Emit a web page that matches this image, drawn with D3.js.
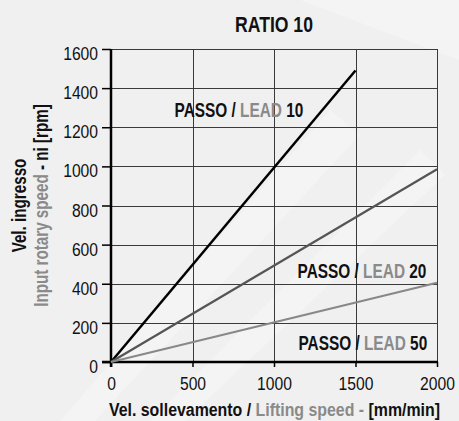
<!DOCTYPE html>
<html>
<head>
<meta charset="utf-8">
<script src="https://cdn.jsdelivr.net/npm/d3@7"></script>
<style>
  html, body { margin: 0; padding: 0; background: #f0f0f0; }
  svg { display: block; }
  text { font-family: "Liberation Sans", Arial, sans-serif; }
</style>
</head>
<body>
<svg id="chart" width="459" height="421"></svg>
<script>
// Lifting speed [mm/min] vs input rotary speed [rpm], gear ratio 10
const title = "RATIO 10";
const xTicks = [0, 500, 1000, 1500, 2000];
const yTicks = [0, 200, 400, 600, 800, 1000, 1200, 1400, 1600];
const leads = [10, 20, 50];
const speedsLead10 = [[0, 0], [1500, 1490]];
const speedsLead20 = [[0, 0], [2000, 985]];
const speedsLead50 = [[0, 0], [2000, 405]];
const lineColors = ["#000000", "#555555", "#888888"];
// label anchor points (right end of text) in data units
const labelPos = [[1180, 1253], [1935, 430], [1940, 61]];

const DARK = "#111111", GREY = "#8a8a8a";
const BOLD_SX = 0.78, REG_SX = 0.87;

const svg = d3.select("#chart");
const W = 459, H = 421;
const margin = { left: 111, right: 22, top: 49, bottom: 59 };

const x = d3.scaleLinear().domain([0, 2000]).range([margin.left, W - margin.right]);
const y = d3.scaleLinear().domain([0, 1600]).range([H - margin.bottom, margin.top]);

// condensed text: a text element squeezed horizontally inside a positioned group
function condText(px, py, opts = {}) {
  const g = svg.append("g")
    .attr("transform", `translate(${px},${py}) rotate(${opts.rotate || 0}) scale(${opts.sx || BOLD_SX},1)`);
  return g.append("text")
    .attr("text-anchor", opts.anchor || "start")
    .attr("fill", opts.fill || DARK)
    .style("font-size", (opts.size || 18) + "px")
    .style("font-weight", opts.weight || "bold");
}

// faint watermark bands in the background
const wm = svg.append("g").attr("opacity", 0.55);
wm.append("path").attr("d", "M60,421 L330,110 L360,135 L95,421 Z").attr("fill", "#f8f8f8");
wm.append("path").attr("d", "M150,421 L420,150 L445,175 L185,421 Z").attr("fill", "#f8f8f8");
wm.append("path").attr("d", "M250,0 L459,0 L459,60 L300,0 Z").attr("fill", "#f8f8f8");

// grid
const grid = svg.append("g").attr("stroke", "#3a3a3a").attr("stroke-width", 1);
grid.selectAll("line.h").data(yTicks.slice(1)).join("line")
  .attr("x1", x(0)).attr("x2", x(2000))
  .attr("y1", d => Math.round(y(d)) + 0.5).attr("y2", d => Math.round(y(d)) + 0.5);
grid.selectAll("line.v").data(xTicks.slice(1)).join("line")
  .attr("y1", y(0)).attr("y2", y(1600))
  .attr("x1", d => Math.round(x(d)) + 0.5).attr("x2", d => Math.round(x(d)) + 0.5);

// axes
const yAxis = d3.axisLeft(y).tickValues(yTicks).tickSize(9).tickPadding(4).tickFormat(d3.format("d"));
const xAxis = d3.axisBottom(x).tickValues(xTicks).tickSize(5).tickPadding(10).tickFormat(d3.format("d"));

const gy = svg.append("g").attr("transform", `translate(${x(0)},0)`).call(yAxis);
const gx = svg.append("g").attr("transform", `translate(0,${y(0)})`).call(xAxis);
[gx, gy].forEach(g => {
  g.select(".domain").remove();
  g.selectAll(".tick line").attr("stroke", "#000").attr("stroke-width", 1.5);
  g.selectAll(".tick text").attr("fill", DARK).style("font-size", "18px");
});
gy.selectAll(".tick text").each(function () {
  const t = d3.select(this);
  const tx = +t.attr("x");
  t.attr("x", 0).attr("dy", null).attr("y", 0)
    .attr("transform", `translate(${tx},10.5) scale(${REG_SX},1)`);
});
gx.selectAll(".tick text").each(function () {
  const t = d3.select(this);
  t.attr("transform", `scale(${REG_SX},1)`);
});

svg.append("line").attr("x1", x(0)).attr("x2", x(0)).attr("y1", y(1600)).attr("y2", y(0) + 5)
  .attr("stroke", "#000").attr("stroke-width", 2.5);
svg.append("line").attr("x1", x(0) - 9).attr("x2", x(2000) + 1).attr("y1", y(0)).attr("y2", y(0))
  .attr("stroke", "#000").attr("stroke-width", 2.5);

// series lines
const line = d3.line().x(d => x(d[0])).y(d => y(d[1]));
[speedsLead10, speedsLead20, speedsLead50].forEach((s, i) => {
  svg.append("path").attr("d", line(s)).attr("fill", "none")
    .attr("stroke", lineColors[i]).attr("stroke-width", i === 0 ? 2.5 : 2.2);
});

// series labels
leads.forEach((lead, i) => {
  const t = condText(x(labelPos[i][0]), y(labelPos[i][1]), { anchor: "end", size: 20, sx: 0.77 });
  t.append("tspan").attr("fill", DARK).text("PASSO / ");
  t.append("tspan").attr("fill", GREY).text("LEAD ");
  t.append("tspan").attr("fill", DARK).text(lead);
});

// title
condText((x(0) + x(2000)) / 2, 32, { anchor: "middle", size: 22, sx: 0.8 }).text(title);

// x axis title
const xt = condText((x(0) + x(2000)) / 2 + 0.5, 416, { anchor: "middle", size: 18.7, sx: 0.85 });
xt.append("tspan").attr("fill", DARK).text("Vel. sollevamento / ");
xt.append("tspan").attr("fill", GREY).text("Lifting speed - ");
xt.append("tspan").attr("fill", DARK).text("[mm/min]");

// y axis title (two lines)
const cy = (y(0) + y(1600)) / 2;
condText(26, cy, { anchor: "middle", size: 19.5, rotate: -90 }).text("Vel. ingresso");
const yt = condText(47.5, cy, { anchor: "middle", size: 19.5, rotate: -90 });
yt.append("tspan").attr("fill", GREY).text("Input rotary speed ");
yt.append("tspan").attr("fill", DARK).text("- ni [rpm]");
</script>
</body>
</html>
